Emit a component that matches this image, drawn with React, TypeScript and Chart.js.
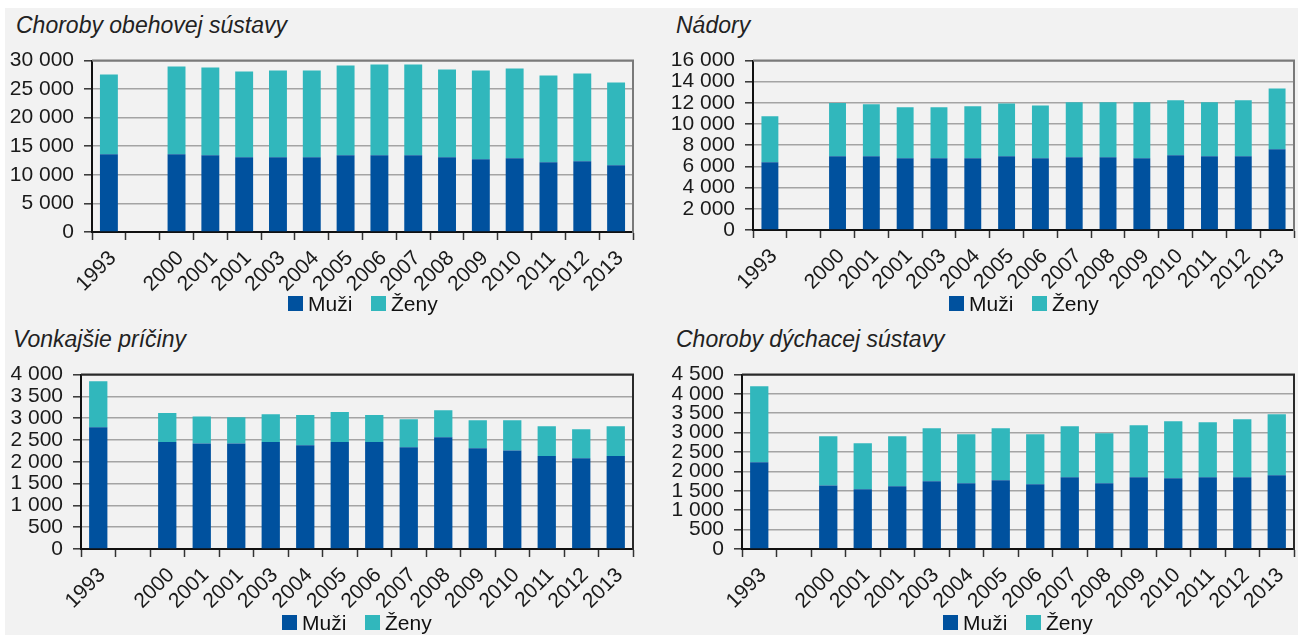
import React, { useEffect, useRef } from 'react';
import { Chart, registerables } from 'chart.js';

Chart.register(...registerables);

// ---------- data ----------
const categories = ['1993', '', '2000', '2001', '2001', '2003', '2004', '2005', '2006', '2007', '2008', '2009', '2010', '2011', '2012', '2013'];

const obehovaMuzi = [13600, null, 13600, 13430, 13080, 13080, 13080, 13430, 13430, 13430, 13080, 12730, 12900, 12210, 12380, 11690];
const obehovaZeny = [13950, null, 15350, 15350, 15000, 15170, 15170, 15700, 15870, 15870, 15350, 15520, 15700, 15170, 15350, 14470];

const nadoryMuzi = [6400, null, 6960, 6960, 6780, 6780, 6780, 6960, 6780, 6870, 6870, 6780, 7060, 6960, 6960, 7620];
const nadoryZeny = [4330, null, 5020, 4900, 4800, 4800, 4890, 4990, 4980, 5180, 5180, 5270, 5180, 5090, 5280, 5740];

const vonkajsieMuzi = [2790, null, 2450, 2420, 2420, 2450, 2380, 2450, 2450, 2330, 2560, 2310, 2260, 2130, 2080, 2130];
const vonkajsieZeny = [1055, null, 665, 620, 600, 640, 690, 690, 620, 645, 620, 640, 690, 685, 665, 685];

const dychaciaMuzi = [2240, null, 1640, 1540, 1620, 1750, 1695, 1770, 1670, 1850, 1695, 1850, 1825, 1850, 1850, 1900];
const dychaciaZeny = [1960, null, 1265, 1190, 1290, 1365, 1265, 1345, 1290, 1315, 1290, 1340, 1470, 1420, 1495, 1575];

const seriesNames = ['Muži', 'Ženy'];
const seriesColors = ['#00519e', '#31b7bc'];

const titles = ['Choroby obehovej sústavy', 'Nádory', 'Vonkajšie príčiny', 'Choroby dýchacej sústavy'];
const yMax = [30000, 16000, 4000, 4500];
const yStep = [5000, 2000, 500, 500];

// ---------- layout ----------
const FONT = '"Liberation Sans", Arial, Helvetica, sans-serif';
const Y_W = 90;
const X_H = 70;
const PAD_T = 20;
const PAD_R = 20;

type Area = { L: number; T: number; R: number; B: number };

const areas: Area[] = [
  { L: 92, T: 60, R: 633, B: 232 },
  { L: 753, T: 60, R: 1294, B: 230 },
  { L: 81, T: 374, R: 633, B: 549 },
  { L: 742, T: 374, R: 1294, B: 549 },
];
const frameColors = ['#7a7a7a', '#7a7a7a', '#2a2a2a', '#2a2a2a'];
const barPct = [0.53, 0.5, 0.53, 0.53];
const titlePos = [
  { x: 16, y: 14 },
  { x: 676, y: 14 },
  { x: 13, y: 328 },
  { x: 676, y: 328 },
];
const legendTop = [296, 296, 615, 615];

const fmt = (v: number) => String(v).replace(/\B(?=(\d{3})+(?!\d))/g, ' ');

const framePlugin = {
  id: 'frame',
  afterDraw(chart: any, _args: any, opts: any) {
    const { ctx, chartArea } = chart;
    const { left, top, right, bottom } = chartArea;
    ctx.save();
    ctx.strokeStyle = opts.color || '#777';
    ctx.lineWidth = 2;
    ctx.beginPath();
    ctx.moveTo(left, top);
    ctx.lineTo(right, top);
    ctx.lineTo(right, bottom + 1);
    ctx.stroke();
    ctx.restore();
  },
};

function Panel({ idx, muzi, zeny }: { idx: number; muzi: (number | null)[]; zeny: (number | null)[] }) {
  const ref = useRef<HTMLCanvasElement | null>(null);
  const a = areas[idx];
  const x = a.L - Y_W;
  const y = a.T - PAD_T;
  const w = a.R + PAD_R - x;
  const h = a.B + X_H - y;

  useEffect(() => {
    if (!ref.current) return;
    const max = yMax[idx];
    const chart = new Chart(ref.current, {
      type: 'bar',
      data: {
        labels: categories,
        datasets: [
          {
            label: seriesNames[0],
            data: muzi,
            backgroundColor: seriesColors[0],
            borderWidth: 0,
            barPercentage: barPct[idx],
            categoryPercentage: 1,
          },
          {
            label: seriesNames[1],
            data: zeny,
            backgroundColor: seriesColors[1],
            borderWidth: 0,
            barPercentage: barPct[idx],
            categoryPercentage: 1,
          },
        ],
      } as any,
      options: {
        responsive: false,
        animation: false,
        devicePixelRatio: 1,
        layout: { padding: { left: 0, top: PAD_T, right: PAD_R, bottom: 0 } },
        plugins: {
          legend: { display: false },
          tooltip: { enabled: false },
          title: { display: false },
          frame: { color: frameColors[idx] },
        } as any,
        scales: {
          x: {
            stacked: true,
            offset: true,
            grid: {
              display: true,
              drawOnChartArea: false,
              drawTicks: true,
              tickLength: 8,
              tickColor: '#333333',
              tickWidth: 1.5,
              offset: true,
            },
            border: { display: true, color: '#111111', width: 2 },
            ticks: {
              autoSkip: false,
              maxRotation: 45,
              minRotation: 45,
              padding: 6,
              labelOffset: 4,
              color: '#1a1a1a',
              font: { family: FONT, size: 21 },
            },
            afterFit(scale: any) {
              scale.height = X_H;
            },
          },
          y: {
            stacked: true,
            min: 0,
            max,
            grid: {
              color: (c: any) => (c.tick && c.tick.value === max ? frameColors[idx] : '#a4a4a4'),
              lineWidth: 1.6,
              drawTicks: true,
              tickLength: 8,
              tickColor: '#333333',
              tickWidth: 1.5,
            },
            border: { display: true, color: '#111111', width: 2 },
            ticks: {
              stepSize: yStep[idx],
              autoSkip: false,
              padding: 10,
              color: '#1a1a1a',
              font: { family: FONT, size: 21, lineHeight: 1 },
              callback: (v: any) => fmt(Number(v)),
            },
            afterFit(scale: any) {
              scale.width = Y_W;
            },
          },
        },
      } as any,
      plugins: [framePlugin as any],
    });
    return () => chart.destroy();
  }, []);

  const legendCenter = (a.L + a.R) / 2;
  const lx = Math.round(legendCenter - 75);
  const lt = legendTop[idx];

  return (
    <>
      <div
        style={{
          position: 'absolute',
          left: titlePos[idx].x,
          top: titlePos[idx].y,
          font: `italic 23px/23px ${FONT}`,
          color: '#222',
          whiteSpace: 'nowrap',
        }}
      >
        {titles[idx]}
      </div>
      <canvas
        ref={ref}
        width={w}
        height={h}
        style={{ position: 'absolute', left: x, top: y, width: w, height: h }}
      />
      {[0, 1].map((s) => (
        <React.Fragment key={s}>
          <div
            style={{
              position: 'absolute',
              left: lx + s * 83,
              top: lt,
              width: 15,
              height: 15,
              background: seriesColors[s],
            }}
          />
          <div
            style={{
              position: 'absolute',
              left: lx + s * 83 + 20,
              top: lt - 3,
              font: `21px/21px ${FONT}`,
              color: '#111',
              whiteSpace: 'nowrap',
            }}
          >
            {seriesNames[s]}
          </div>
        </React.Fragment>
      ))}
    </>
  );
}

export default function App() {
  return (
    <div
      style={{
        position: 'absolute',
        left: 0,
        top: 0,
        width: 1298,
        height: 635,
        overflow: 'hidden',
        background: '#ffffff',
      }}
    >
      <div
        style={{
          position: 'absolute',
          left: 5,
          top: 8,
          width: 1293,
          height: 627,
          background: '#f2f2f2',
        }}
      />
      <Panel idx={0} muzi={obehovaMuzi} zeny={obehovaZeny} />
      <Panel idx={1} muzi={nadoryMuzi} zeny={nadoryZeny} />
      <Panel idx={2} muzi={vonkajsieMuzi} zeny={vonkajsieZeny} />
      <Panel idx={3} muzi={dychaciaMuzi} zeny={dychaciaZeny} />
    </div>
  );
}
